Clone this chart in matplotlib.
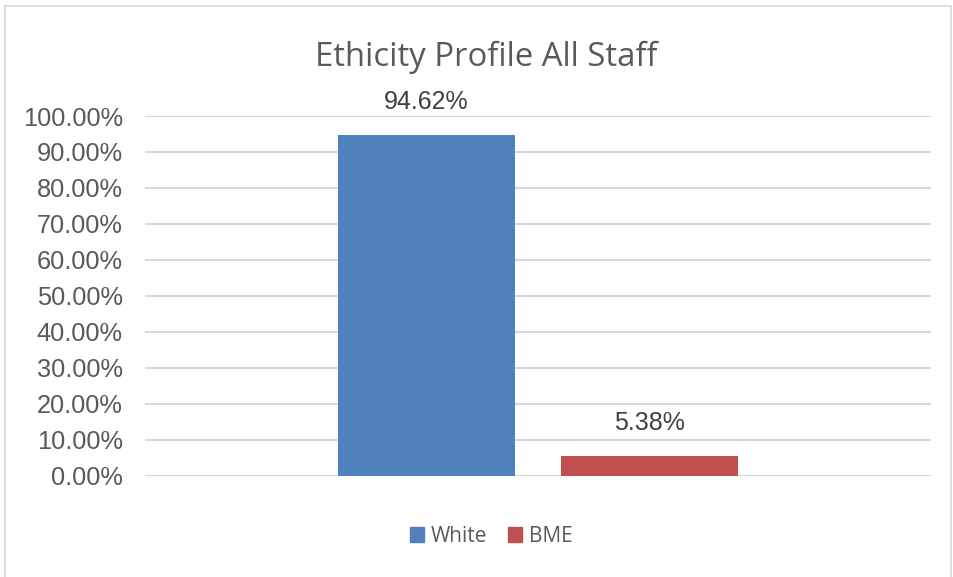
import matplotlib

matplotlib.use("Agg")
import matplotlib.pyplot as plt
from matplotlib.patches import Rectangle, Patch
from matplotlib.ticker import PercentFormatter

SERIES = ["White", "BME"]
VALUES = [94.62, 5.38]
COLORS = ["#4F81BD", "#C0504D"]
LABELS = ["94.62%", "5.38%"]
YTICKS = [0, 10, 20, 30, 40, 50, 60, 70, 80, 90, 100]

W, H = 954, 577
fig = plt.figure(figsize=(W / 100, H / 100), dpi=100)
fig.patches.append(Rectangle((5 / W, -0.01), 946 / W, 1 - 6 / H + 0.01,
                             transform=fig.transFigure, fill=False,
                             edgecolor="#D9D9D9", lw=1.2))

ax = fig.add_axes([145 / W, 101.5 / H, 786 / W, 359.5 / H])
bw = 177 / 786
offs = [-0.1419, 0.1419]
for i, (name, v, c, lab) in enumerate(zip(SERIES, VALUES, COLORS, LABELS)):
    ax.bar(offs[i], v, width=bw, color=c, label=name, zorder=3)
    ax.annotate(lab, (offs[i], v), xytext=(0, 24), textcoords="offset points",
                ha="center", va="center", fontsize=18, color="#404040",
                family="Liberation Sans")

ax.set_xlim(-0.5, 0.5)
ax.set_ylim(0, 100)
ax.set_yticks(YTICKS)
ax.yaxis.set_major_formatter(PercentFormatter(decimals=2))
ax.set_xticks([])
ax.grid(axis="y", color="#D9D9D9", lw=1.5, zorder=0)
for s in ax.spines.values():
    s.set_visible(False)
ax.tick_params(axis="y", length=0, pad=16, labelsize=18.3, labelcolor="#595959")
for t in ax.get_yticklabels():
    t.set_family("Liberation Sans")

fig.text(486 / W, 1 - 57 / H, "Ethicity Profile All Staff", ha="center", va="center",
         fontsize=23.7, color="#595959", family="Open Sans")

handles = [Patch(color=c, label=n) for n, c in zip(SERIES, COLORS)]
fig.legend(handles=handles, loc="center", bbox_to_anchor=(491 / W, 1 - 536 / H),
           ncol=2, frameon=False, handlelength=0.7, handleheight=0.7,
           handletextpad=0.3, columnspacing=1.0,
           prop={"family": ["Open Sans"], "size": 15}, labelcolor="#595959")

fig.savefig("out.png", dpi=100)
